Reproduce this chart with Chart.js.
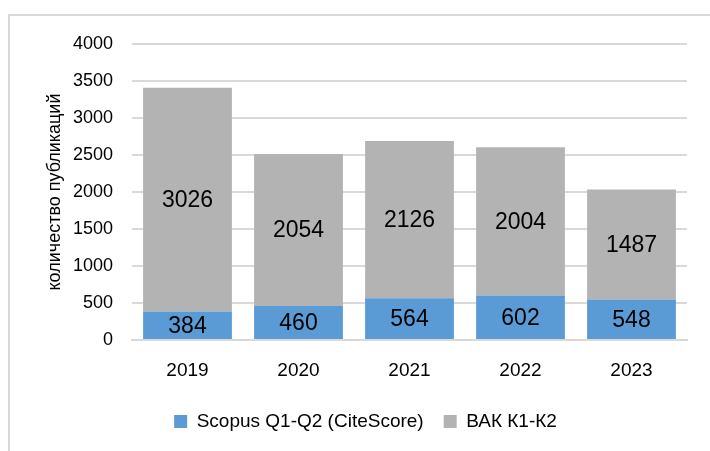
<!DOCTYPE html>
<html>
<head>
<meta charset="utf-8">
<script src="https://cdn.jsdelivr.net/npm/chart.js@4"></script>
<style>
    body { margin: 0; background: #fff; }
    #frame { position: absolute; left: 8px; top: 14px; width: 720px; height: 460px; border-top: 2px solid #D9D9D9; border-left: 2px solid #D9D9D9; }
    #wrap { position: absolute; left: 0; top: 0; width: 710px; height: 451px; }
</style>
</head>
<body>
<div id="frame"></div>
<div id="wrap"><canvas id="pubChart" width="710" height="451"></canvas></div>
<script>
// ==================== Data ====================
const years = ['2019', '2020', '2021', '2022', '2023'];
const scopusCounts = [384, 460, 564, 602, 548];
const vakCounts = [3026, 2054, 2126, 2004, 1487];
const seriesNames = ['Scopus Q1-Q2 (CiteScore)', 'ВАК К1-К2'];

const FONT = '"Liberation Sans", Arial, sans-serif';

// Value labels in the middle of each bar segment
const barLabels = {
    id: 'barLabels',
    afterDatasetsDraw(chart) {
        const ctx = chart.ctx;
        ctx.save();
        ctx.font = '23px ' + FONT;
        ctx.fillStyle = '#000';
        ctx.textAlign = 'center';
        ctx.textBaseline = 'middle';
        chart.data.datasets.forEach((ds, i) => {
            chart.getDatasetMeta(i).data.forEach((bar, j) => {
                const p = bar.getCenterPoint();
                ctx.fillText(ds.data[j], p.x, p.y + 1);
            });
        });
        ctx.restore();
    }
};

new Chart(document.getElementById('pubChart'), {
    type: 'bar',
    data: {
        labels: years,
        datasets: [
            { label: seriesNames[0], data: scopusCounts, backgroundColor: '#5B9BD5' },
            { label: seriesNames[1], data: vakCounts, backgroundColor: '#B3B3B3' }
        ]
    },
    options: {
        responsive: false,
        animation: false,
        layout: { padding: { left: 44, right: 23, top: 44, bottom: 10 } },
        plugins: {
            tooltip: { enabled: false },
            legend: {
                position: 'bottom',
                labels: {
                    font: { family: FONT, size: 19 },
                    color: '#000',
                    boxWidth: 13,
                    boxHeight: 13,
                    padding: 20
                }
            }
        },
        datasets: { bar: { categoryPercentage: 1, barPercentage: 0.8 } },
        scales: {
            x: {
                stacked: true,
                grid: { display: false },
                border: { color: '#D9D9D9', width: 2 },
                ticks: { font: { family: FONT, size: 19 }, color: '#000', padding: 11 },
                afterFit(scale) { scale.height = 52; }
            },
            y: {
                stacked: true,
                min: 0,
                max: 4000,
                ticks: {
                    stepSize: 500,
                    font: { family: FONT, size: 18 },
                    color: '#000',
                    padding: 19,
                    callback: value => String(value)
                },
                grid: { color: '#D9D9D9', lineWidth: 2, drawTicks: false },
                border: { display: false },
                title: {
                    display: true,
                    text: 'количество публикаций',
                    font: { family: FONT, size: 18 },
                    color: '#000',
                    padding: 0
                },
                afterFit(scale) { scale.width = 132 - 44; }
            }
        }
    },
    plugins: [barLabels]
});
</script>
</body>
</html>
